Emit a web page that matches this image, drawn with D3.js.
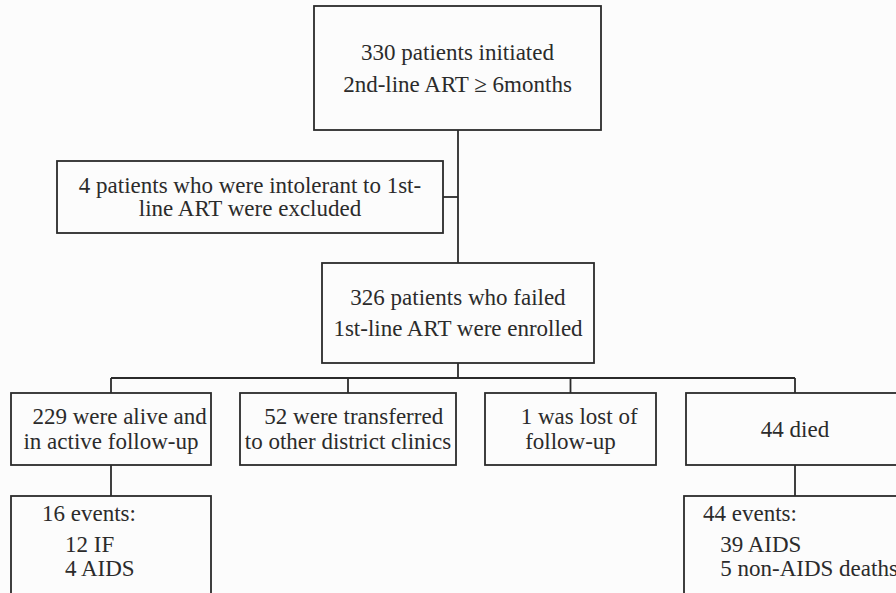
<!DOCTYPE html>
<html>
<head>
<meta charset="utf-8">
<script src="https://cdn.jsdelivr.net/npm/d3@7"></script>
<style>
  body { margin: 0; background: #fcfcfc; }
  svg { display: block; }
</style>
</head>
<body>
<div id="chart"></div>
<script>
// box texts, one array per level
var topLines = ['330 patients initiated', '2nd-line ART \u2265 6months'];
var excludedLines = ['4 patients who were intolerant to 1st-', 'line ART were excluded'];
var enrolledLines = ['326 patients who failed', '1st-line ART were enrolled'];
var outcomeLines = [
  ['\u00a0\u00a0\u00a0229 were alive and', 'in active follow-up'],
  ['\u00a0\u00a052 were transferred', 'to other district clinics'],
  ['\u00a0\u00a0\u00a01 was lost of', 'follow-up'],
  ['44 died']
];
var eventLines = [
  ['16 events:', '\u00a0\u00a0\u00a0\u00a012 IF', '\u00a0\u00a0\u00a0\u00a04 AIDS'],
  ['44 events:', '\u00a0\u00a0\u00a039 AIDS', '\u00a0\u00a0\u00a05 non-AIDS deaths']
];

var width = 896, height = 593;
var stroke = '#2b2b2b';
var font = 'Liberation Serif';

// layout
var spineX = 458;
var topBox = {x0: 314, x1: 601, y0: 6, y1: 130, lh: 32};
var exclBox = {x0: 57, x1: 443, y0: 161, y1: 233, lh: 23};
var enrBox = {x0: 322, x1: 594, y0: 263, y1: 363, lh: 31};
var branchY = 378;
var outcomeX = [[11, 211], [240, 456], [485, 656], [686, 904]];
var outcomeY = [393, 465];
var eventBoxes = [{x0: 11, x1: 211, pad: 31, parent: 0}, {x0: 684, x1: 904, pad: 19, parent: 3}];
var eventY = [496, 640];
var eventLineY = [17, 48, 72];

var svg = d3.select('#chart').append('svg')
  .attr('width', width)
  .attr('height', height);

var line = d3.line();
var links = svg.append('g')
  .attr('fill', 'none')
  .attr('stroke', stroke)
  .attr('stroke-width', 1.8);

var boxes = svg.append('g');

function addText(sel) {
  return sel.append('text')
    .attr('font-family', font)
    .attr('font-size', 23)
    .attr('fill', '#2b2b2b')
    .attr('dominant-baseline', 'central');
}

function drawRect(x0, x1, y0, y1) {
  boxes.append('rect')
    .attr('x', x0).attr('y', y0)
    .attr('width', x1 - x0).attr('height', y1 - y0)
    .attr('fill', 'none')
    .attr('stroke', stroke)
    .attr('stroke-width', 1.8);
}

function drawBox(b, lines) {
  drawRect(b.x0, b.x1, b.y0, b.y1);
  var cy = (b.y0 + b.y1) / 2;
  var n = lines.length;
  lines.forEach(function (d, i) {
    addText(boxes)
      .attr('x', (b.x0 + b.x1) / 2)
      .attr('y', cy + (i - (n - 1) / 2) * b.lh)
      .attr('text-anchor', 'middle')
      .text(d);
  });
}

// connectors
var exclY = (exclBox.y0 + exclBox.y1) / 2;
links.append('path').attr('d', line([[spineX, topBox.y1], [spineX, enrBox.y0]]));
links.append('path').attr('d', line([[exclBox.x1, exclY], [spineX, exclY]]));
links.append('path').attr('d', line([[spineX, enrBox.y1], [spineX, branchY]]));
var centers = outcomeX.map(function (d) { return (d[0] + d[1]) / 2; });
links.append('path').attr('d', line([[centers[0], branchY], [centers[centers.length - 1], branchY]]));
centers.forEach(function (c) {
  links.append('path').attr('d', line([[c, branchY], [c, outcomeY[0]]]));
});
eventBoxes.forEach(function (b) {
  var c = centers[b.parent];
  links.append('path').attr('d', line([[c, outcomeY[1]], [c, eventY[0]]]));
});

drawBox(topBox, topLines);
drawBox(exclBox, excludedLines);
drawBox(enrBox, enrolledLines);
outcomeLines.forEach(function (lines, i) {
  drawBox({x0: outcomeX[i][0], x1: outcomeX[i][1], y0: outcomeY[0], y1: outcomeY[1], lh: 25}, lines);
});

eventBoxes.forEach(function (b, i) {
  drawRect(b.x0, b.x1, eventY[0], eventY[1]);
  eventLines[i].forEach(function (d, j) {
    addText(boxes)
      .attr('x', b.x0 + b.pad)
      .attr('y', eventY[0] + eventLineY[j])
      .text(d);
  });
});
</script>
</body>
</html>
